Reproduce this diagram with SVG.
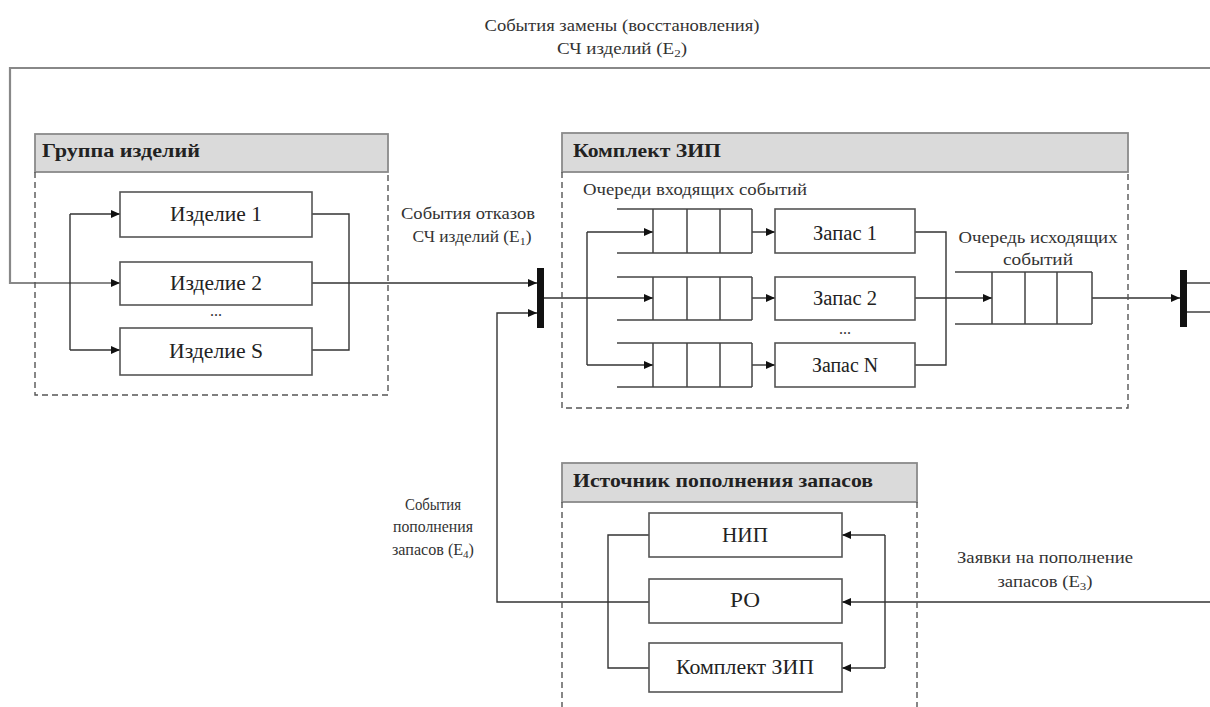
<svg xmlns="http://www.w3.org/2000/svg" width="1210" height="707" viewBox="0 0 1210 707" font-family="'Liberation Serif', 'Times New Roman', 'DejaVu Serif', serif">
<style>
.box{fill:#fff;stroke:#555;stroke-width:1.6}
.hdr{fill:#dadada;stroke:#8a8a8a;stroke-width:1.8}
.dash{fill:none;stroke:#555;stroke-width:1.4;stroke-dasharray:6 4}
.ln{fill:none;stroke:#333;stroke-width:1.4}
.gl{fill:none;stroke:#888;stroke-width:2.2}
.arr{marker-end:url(#ah)}
.bt{font-size:20px;text-anchor:middle;fill:#222}
.ht{font-size:19px;font-weight:bold;fill:#222}
.lb{font-size:16px;text-anchor:middle;fill:#333}
.q{fill:none;stroke:#444;stroke-width:1.5}
.bar{fill:#111}
</style>
<defs>
<marker id="ah" markerUnits="userSpaceOnUse" markerWidth="10" markerHeight="8" refX="9" refY="4" orient="auto">
<path d="M0,0 L9,4 L0,8 z" fill="#111"/>
</marker>
</defs>

<g id="connectors">
<polyline class="gl arr" points="1210,68 10,68 10,283 120,283"/>
<line class="ln" x1="70" y1="214" x2="70" y2="350"/>
<line class="ln arr" x1="70" y1="214" x2="120" y2="214"/>
<line class="ln arr" x1="70" y1="350" x2="120" y2="350"/>
<polyline class="ln" points="312,214 349,214 349,350 312,350"/>
<line class="ln arr" x1="312" y1="283" x2="537" y2="283"/>
<polyline class="ln arr" points="649,602 497,602 497,313 537,313"/>
<line class="ln" x1="544" y1="298" x2="587" y2="298"/>
<line class="ln" x1="587" y1="232" x2="587" y2="365"/>
<line class="ln arr" x1="587" y1="232" x2="653" y2="232"/>
<line class="ln arr" x1="587" y1="298" x2="653" y2="298"/>
<line class="ln arr" x1="587" y1="365" x2="653" y2="365"/>
<line class="ln arr" x1="752" y1="232" x2="775" y2="232"/>
<line class="ln arr" x1="752" y1="298" x2="775" y2="298"/>
<line class="ln arr" x1="752" y1="365" x2="775" y2="365"/>
<polyline class="ln" points="915,232 946,232 946,365 915,365"/>
<line class="ln arr" x1="915" y1="298" x2="992" y2="298"/>
<line class="ln arr" x1="1092" y1="298" x2="1180" y2="298"/>
<line class="ln" x1="1187" y1="283" x2="1210" y2="283"/>
<line class="ln" x1="1187" y1="312" x2="1210" y2="312"/>
<line class="ln arr" x1="1210" y1="602" x2="842" y2="602"/>
<line class="ln" x1="885" y1="535" x2="885" y2="668"/>
<line class="ln arr" x1="885" y1="535" x2="842" y2="535"/>
<line class="ln arr" x1="885" y1="668" x2="842" y2="668"/>
<polyline class="ln" points="649,535 608,535 608,668 649,668"/>
<rect class="bar" x="537" y="268" width="7" height="60"/>
<rect class="bar" x="1180" y="270" width="7" height="57"/>
</g>

<g id="labels">
<text class="lb" x="622" y="31" textLength="275" lengthAdjust="spacingAndGlyphs">События замены (восстановления)</text>
<text class="lb" x="622" y="54" textLength="130" lengthAdjust="spacingAndGlyphs">СЧ изделий (E<tspan font-size="11" dy="3">2</tspan><tspan dy="-3">)</tspan></text>
<text class="lb" x="468" y="219" textLength="134" lengthAdjust="spacingAndGlyphs">События отказов</text>
<text class="lb" x="472" y="242" textLength="119" lengthAdjust="spacingAndGlyphs">СЧ изделий (E<tspan font-size="11" dy="3">1</tspan><tspan dy="-3">)</tspan></text>
<text class="lb" x="433" y="510" textLength="56" lengthAdjust="spacingAndGlyphs">События</text>
<text class="lb" x="433" y="532" textLength="80" lengthAdjust="spacingAndGlyphs">пополнения</text>
<text class="lb" x="433" y="555" textLength="82" lengthAdjust="spacingAndGlyphs">запасов (E<tspan font-size="11" dy="3">4</tspan><tspan dy="-3">)</tspan></text>
<text class="lb" x="1045" y="563" textLength="176" lengthAdjust="spacingAndGlyphs">Заявки на пополнение</text>
<text class="lb" x="1045" y="587" textLength="95" lengthAdjust="spacingAndGlyphs">запасов (E<tspan font-size="11" dy="3">3</tspan><tspan dy="-3">)</tspan></text>
</g>

<g id="group-items">
<rect class="hdr" x="35" y="134" width="353" height="38"/>
<text class="ht" x="42" y="157" textLength="158" lengthAdjust="spacingAndGlyphs">Группа изделий</text>
<polyline class="dash" points="35,172 35,395 388,395 388,172"/>
</g>
<g id="item-1"><rect class="box" x="120" y="192" width="192" height="45"/><text class="bt" x="216" y="221" textLength="92" lengthAdjust="spacingAndGlyphs">Изделие 1</text></g>
<g id="item-2"><rect class="box" x="120" y="262" width="192" height="43"/><text class="bt" x="216" y="290" textLength="92" lengthAdjust="spacingAndGlyphs">Изделие 2</text></g>
<g id="item-dots"><text class="lb" x="216" y="316">...</text></g>
<g id="item-s"><rect class="box" x="120" y="328" width="192" height="47"/><text class="bt" x="216" y="358" textLength="94" lengthAdjust="spacingAndGlyphs">Изделие S</text></g>

<g id="zip-set">
<rect class="hdr" x="562" y="133" width="566" height="39"/>
<text class="ht" x="573" y="157" textLength="148" lengthAdjust="spacingAndGlyphs">Комплект ЗИП</text>
<polyline class="dash" points="562,172 562,408 1128,408 1128,172"/>
<text class="lb" x="583" y="195" style="text-anchor:start" textLength="224" lengthAdjust="spacingAndGlyphs">Очереди входящих событий</text>
<text class="lb" x="1038" y="243" textLength="159" lengthAdjust="spacingAndGlyphs">Очередь исходящих</text>
<text class="lb" x="1038" y="265" textLength="70" lengthAdjust="spacingAndGlyphs">событий</text>
</g>
<g id="queue-in-1"><path class="q" d="M617,209 H752 M617,253 H752 M653,209 V253 M687,209 V253 M720,209 V253 M752,209 V253"/></g>
<g id="queue-in-2"><path class="q" d="M617,277 H752 M617,320 H752 M653,277 V320 M687,277 V320 M720,277 V320 M752,277 V320"/></g>
<g id="queue-in-3"><path class="q" d="M617,343 H752 M617,387 H752 M653,343 V387 M687,343 V387 M720,343 V387 M752,343 V387"/></g>
<g id="stock-1"><rect class="box" x="775" y="209" width="140" height="44"/><text class="bt" x="845" y="240" textLength="64" lengthAdjust="spacingAndGlyphs">Запас 1</text></g>
<g id="stock-2"><rect class="box" x="775" y="277" width="140" height="43"/><text class="bt" x="845" y="305" textLength="64" lengthAdjust="spacingAndGlyphs">Запас 2</text></g>
<g id="stock-dots"><text class="lb" x="845" y="334">...</text></g>
<g id="stock-n"><rect class="box" x="775" y="343" width="140" height="44"/><text class="bt" x="845" y="372" textLength="66" lengthAdjust="spacingAndGlyphs">Запас N</text></g>
<g id="queue-out"><path class="q" d="M955,272 H1092 M955,324 H1092 M992,272 V324 M1025,272 V324 M1057,272 V324 M1092,272 V324"/></g>

<g id="source">
<rect class="hdr" x="562" y="463" width="355" height="39"/>
<text class="ht" x="573" y="487" textLength="300" lengthAdjust="spacingAndGlyphs">Источник пополнения запасов</text>
<polyline class="dash" points="562,502 562,707"/>
<polyline class="dash" points="917,502 917,707"/>
</g>
<g id="nip"><rect class="box" x="649" y="513" width="193" height="44"/><text class="bt" x="745" y="542" textLength="46" lengthAdjust="spacingAndGlyphs">НИП</text></g>
<g id="ro"><rect class="box" x="649" y="579" width="193" height="44"/><text class="bt" x="745" y="607" textLength="30" lengthAdjust="spacingAndGlyphs">РО</text></g>
<g id="zip-box"><rect class="box" x="649" y="643" width="193" height="49"/><text class="bt" x="745" y="674" textLength="138" lengthAdjust="spacingAndGlyphs">Комплект ЗИП</text></g>
</svg>
